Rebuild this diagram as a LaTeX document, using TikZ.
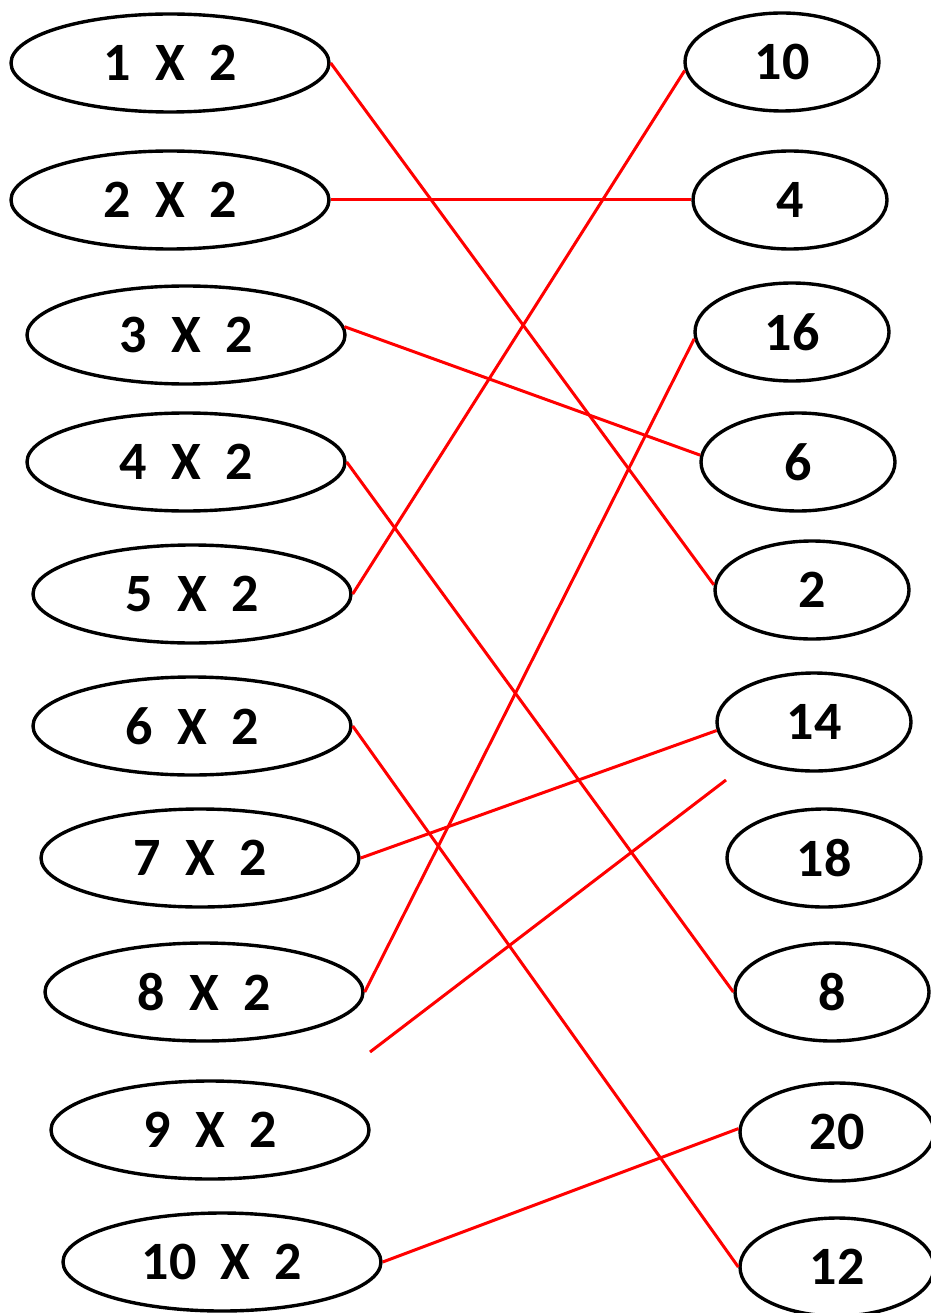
\documentclass[tikz,border=0pt]{standalone}
\usepackage{fontspec}
\setmainfont{Carlito}
\usetikzlibrary{shapes.geometric}

\begin{document}
\begin{tikzpicture}[x=1pt,y=-1pt,
    sum/.style={ellipse,draw,line width=3.4pt,minimum width=318pt,minimum height=98pt,inner sep=0pt,
      font=\fontsize{54}{60}\selectfont\bfseries},
    answer/.style={ellipse,draw,line width=3.4pt,minimum width=194pt,minimum height=98pt,inner sep=0pt,
      font=\fontsize{54}{60}\selectfont\bfseries},
    match/.style={red,line width=3pt}]
  \useasboundingbox (0,0) rectangle (930,1313);

  % Left column: sums
  \node[sum] (l1)  at (170,63)   {1~~X~~2};
  \node[sum] (l2)  at (170,200)  {2~~X~~2};
  \node[sum] (l3)  at (186,335)  {3~~X~~2};
  \node[sum] (l4)  at (186,462)  {4~~X~~2};
  \node[sum] (l5)  at (192,594)  {5~~X~~2};
  \node[sum] (l6)  at (192,726)  {6~~X~~2};
  \node[sum] (l7)  at (200,858)  {7~~X~~2};
  \node[sum] (l8)  at (204,992)  {8~~X~~2};
  \node[sum] (l9)  at (210,1130) {9~~X~~2};
  \node[sum] (l10) at (222,1262) {10~~X~~2};

  % Right column: answers
  \node[answer] (r10) at (782,62)   {10};
  \node[answer] (r4)  at (790,200)  {4};
  \node[answer] (r16) at (792,332)  {16};
  \node[answer] (r6)  at (798,462)  {6};
  \node[answer] (r2)  at (812,590)  {2};
  \node[answer] (r14) at (814,722)  {14};
  \node[answer] (r18) at (824,858)  {18};
  \node[answer] (r8)  at (832,992)  {8};
  \node[answer] (r20) at (837,1132) {20};
  \node[answer] (r12) at (837,1267) {12};

  % Loose line ends
  \coordinate (f1) at (370,1052);
  \coordinate (f2) at (726,780);

  % Matches
  \draw[match] (l1.east) -- (r2.177);
  \draw[match] (l2.east) -- (r4.west);
  \draw[match] (l3.3) -- (r6.176);
  \draw[match] (l4.east) -- (r8.west);
  \draw[match] (l5.east) -- (r10.185);
  \draw[match] (l6.east) -- (r12.west);
  \draw[match] (l7.east) -- (r14.185);
  \draw[match] (l8.east) -- (r16.184);
  \draw[match] (f1) -- (f2);
  \draw[match] (l10.east) -- (r20.178);
\end{tikzpicture}
\end{document}
